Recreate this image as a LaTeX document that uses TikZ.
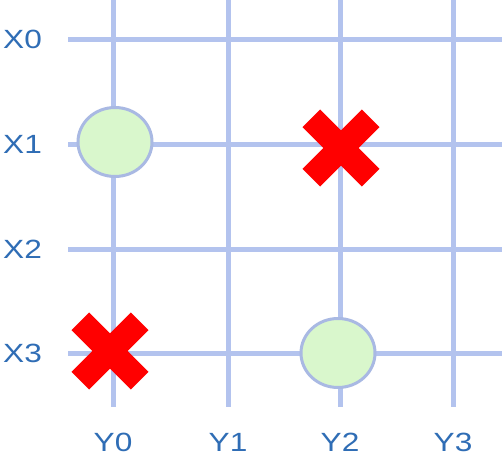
\documentclass[tikz,border=0pt]{standalone}
\usepackage{fontspec}
\setmainfont{Liberation Sans}
\usetikzlibrary{shapes.geometric}
\definecolor{gridblue}{HTML}{B3C3EE}
\definecolor{labblue}{HTML}{2F6DB5}
\definecolor{okgreen}{HTML}{D9F7CC}
\definecolor{rimblue}{HTML}{A9B9E3}
\tikzset{
    gridline/.style={gridblue, line width=0.1cm},
    lab/.style={labblue, font=\fontsize{15}{17}\selectfont, xscale=1.2},
    hit/.style={ellipse, fill=okgreen, draw=rimblue, line width=0.06cm,
                minimum width=1.48cm, minimum height=1.38cm, inner sep=0pt},
    miss/.style={minimum size=1.54cm, inner sep=0pt}
}
\newcommand{\crossmark}[1]{%
    \fill[red, shift={(#1.center)}, rotate=45]
        (0.25,0.25) -- (0.84,0.25) -- (0.84,-0.25) -- (0.25,-0.25)
        -- (0.25,-0.84) -- (-0.25,-0.84) -- (-0.25,-0.25) -- (-0.84,-0.25)
        -- (-0.84,0.25) -- (-0.25,0.25) -- (-0.25,0.84) -- (0.25,0.84)
        -- cycle;
}
\begin{document}
\begin{tikzpicture}
\useasboundingbox (0,0) rectangle (10.04,9.14);

    % rows
    \foreach \y/\label in {8.36/X0, 6.26/X1, 4.16/X2, 2.08/X3}{
        \draw[gridline] (1.36,\y) -- (10.04,\y);
        \node[lab] (\label) at (0.45,\y) {\label};
    }
    % columns
    \foreach \x/\label in {2.26/Y0, 4.56/Y1, 6.80/Y2, 9.06/Y3}{
        \draw[gridline] (\x,9.14) -- (\x,1.0);
        \node[lab] (\label) at (\x,0.30) {\label};
    }

    \node[hit]  (h1) at (2.30,6.30) {};
    \node[hit]  (h2) at (6.76,2.08) {};
    \node[miss] (m1) at (6.82,6.18) {};
    \node[miss] (m2) at (2.20,2.12) {};
    \crossmark{m1}
    \crossmark{m2}
\end{tikzpicture}
\end{document}
